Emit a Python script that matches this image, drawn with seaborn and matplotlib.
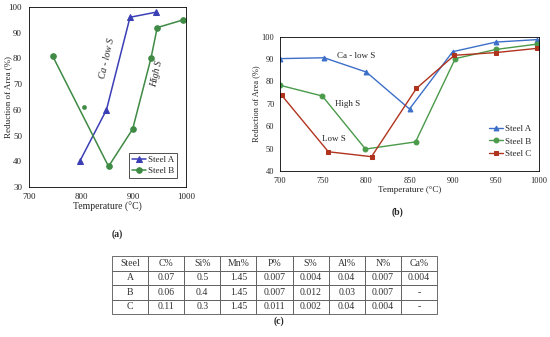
import numpy as np
import pandas as pd
import matplotlib.pyplot as plt
import seaborn as sns

# Panel (a) data
a_temp_A = [797, 848, 893, 943]
a_ra_A = [40, 60, 96, 98]
a_temp_B = [745, 852, 898, 933, 945, 995]
a_ra_B = [81, 38, 52.5, 80, 92, 95]
a_temp_extra = [805]
a_ra_extra = [61]

# Panel (b) data
b_temp_A = [700, 751, 800, 850, 900, 950, 998]
b_ra_A = [90.2, 90.6, 84.2, 67.7, 93.3, 97.6, 98.7]
b_temp_B = [700, 749, 799, 857, 903, 950, 998]
b_ra_B = [78.3, 73.5, 49.8, 53.0, 90.2, 94.3, 96.7]
b_temp_C = [702, 756, 806, 858, 902, 950, 998]
b_ra_C = [73.8, 48.6, 46.4, 76.9, 91.7, 92.9, 94.8]

# Panel (c) table
table_cols = ['Steel', 'C%', 'Si%', 'Mn%', 'P%', 'S%', 'Al%', 'N%', 'Ca%']
table_rows = [
    ['A', '0.07', '0.5', '1.45', '0.007', '0.004', '0.04', '0.007', '0.004'],
    ['B', '0.06', '0.4', '1.45', '0.007', '0.012', '0.03', '0.007', '-'],
    ['C', '0.11', '0.3', '1.45', '0.011', '0.002', '0.04', '0.004', '-'],
]

sns.set_style('white')
plt.rcParams['font.family'] = ['Liberation Serif', 'DejaVu Serif']
plt.rcParams['axes.linewidth'] = 0.6

blue_a = '#3b3fb5'
green_a = '#3f8a45'
blue_b = '#3d6fc9'
green_b = '#4a9a4a'
red_b = '#b0341d'

fig = plt.figure(figsize=(5.5, 3.37), dpi=100)

# ---- Panel (a) ----------------------------------------------------------
ax1 = fig.add_axes([29/550, 1-187/337, 157/550, 180/337])
sns.lineplot(x=a_temp_A, y=a_ra_A, ax=ax1, color=blue_a, marker='^', markersize=4,
             markeredgecolor=blue_a, linewidth=1.1, label='Steel A', sort=False)
sns.lineplot(x=a_temp_B, y=a_ra_B, ax=ax1, color=green_a, marker='o', markersize=4,
             markeredgecolor=green_a, linewidth=1.1, label='Steel B', sort=False)
sns.scatterplot(x=a_temp_extra, y=a_ra_extra, ax=ax1, color=green_a, s=10,
                edgecolor=green_a, legend=False)
ax1.set_xlim(700, 1000)
ax1.set_ylim(30, 100)
ax1.set_xticks([700, 800, 900, 1000])
ax1.set_yticks(range(30, 101, 10))
ax1.tick_params(axis='y', labelsize=6.5, length=0, pad=5)
ax1.tick_params(axis='x', labelsize=6.5, length=0, pad=4)
ax1.set_xlabel('Temperature (°C)', fontsize=7, labelpad=1)
ax1.set_ylabel('Reduction of Area (%)', fontsize=6.5)
ax1.yaxis.set_label_coords(-0.11, 0.5)
ax1.text(849, 80, 'Ca - low S', rotation=77, fontsize=7, style='italic',
         ha='center', va='center')
ax1.text(945, 74, 'High S', rotation=77, fontsize=7, style='italic',
         ha='center', va='center')
leg1 = ax1.legend(loc='lower right', fontsize=6.5, frameon=True, fancybox=False,
                  edgecolor='black', handlelength=1.6, borderpad=0.3,
                  labelspacing=0.3, handletextpad=0.2, borderaxespad=1.0)
leg1.get_frame().set_linewidth(0.6)
for sp in ax1.spines.values():
    sp.set_color('black')

# ---- Panel (b) ----------------------------------------------------------
ax2 = fig.add_axes([280/550, 1-171/337, 259/550, 134.3/337])
sns.lineplot(x=b_temp_A, y=b_ra_A, ax=ax2, color=blue_b, marker='^', markersize=3.5,
             markeredgecolor=blue_b, linewidth=1.0, label='Steel A', sort=False)
sns.lineplot(x=b_temp_B, y=b_ra_B, ax=ax2, color=green_b, marker='o', markersize=3.5,
             markeredgecolor=green_b, linewidth=1.0, label='Steel B', sort=False)
sns.lineplot(x=b_temp_C, y=b_ra_C, ax=ax2, color=red_b, marker='s', markersize=3.5,
             markeredgecolor=red_b, linewidth=1.0, label='Steel C', sort=False)
ax2.set_xlim(700, 1000)
ax2.set_ylim(40, 100)
ax2.set_xticks(range(700, 1001, 50))
ax2.set_yticks(range(40, 101, 10))
ax2.tick_params(axis='y', labelsize=6, length=2, width=0.6, direction='in', pad=4)
ax2.tick_params(axis='x', labelsize=6, length=2, width=0.6, direction='in', pad=4)
ax2.set_xlabel('Temperature (°C)', fontsize=6.5, labelpad=1)
ax2.set_ylabel('Reduction of Area (%)', fontsize=6, labelpad=1)
ax2.text(788, 91.4, 'Ca - low S', fontsize=6.5, ha='center', va='center')
ax2.text(778, 70, 'High S', fontsize=6.5, ha='center', va='center')
ax2.text(762, 54.3, 'Low S', fontsize=6.5, ha='center', va='center')
leg2 = ax2.legend(loc='center right', bbox_to_anchor=(1.0, 0.22), fontsize=6.5,
                  frameon=False, handlelength=1.5, labelspacing=0.5,
                  handletextpad=0.2)
for sp in ax2.spines.values():
    sp.set_color('black')

# ---- Panel labels ------------------------------------------------------
fig.text(117/550, 1-234/337, '(a)', fontsize=7, fontweight='bold', ha='center', va='center')
fig.text(398/550, 1-212/337, '(b)', fontsize=7, fontweight='bold', ha='center', va='center')
fig.text(279/550, 1-321/337, '(c)', fontsize=7, fontweight='bold', ha='center', va='center')

# ---- Panel (c) table ----------------------------------------------------
ax3 = fig.add_axes([112/550, 1-314/337, 325/550, 58/337])
ax3.axis('off')
tbl = ax3.table(cellText=table_rows, colLabels=table_cols, cellLoc='center',
                bbox=[0, 0, 1, 1])
tbl.auto_set_font_size(False)
tbl.set_fontsize(7)
for (r, c), cell in tbl.get_celld().items():
    cell.set_linewidth(0.6)
    cell.set_edgecolor('#555555')
    cell.get_text().set_color('#333333')

fig.savefig('out.png', dpi=100)
